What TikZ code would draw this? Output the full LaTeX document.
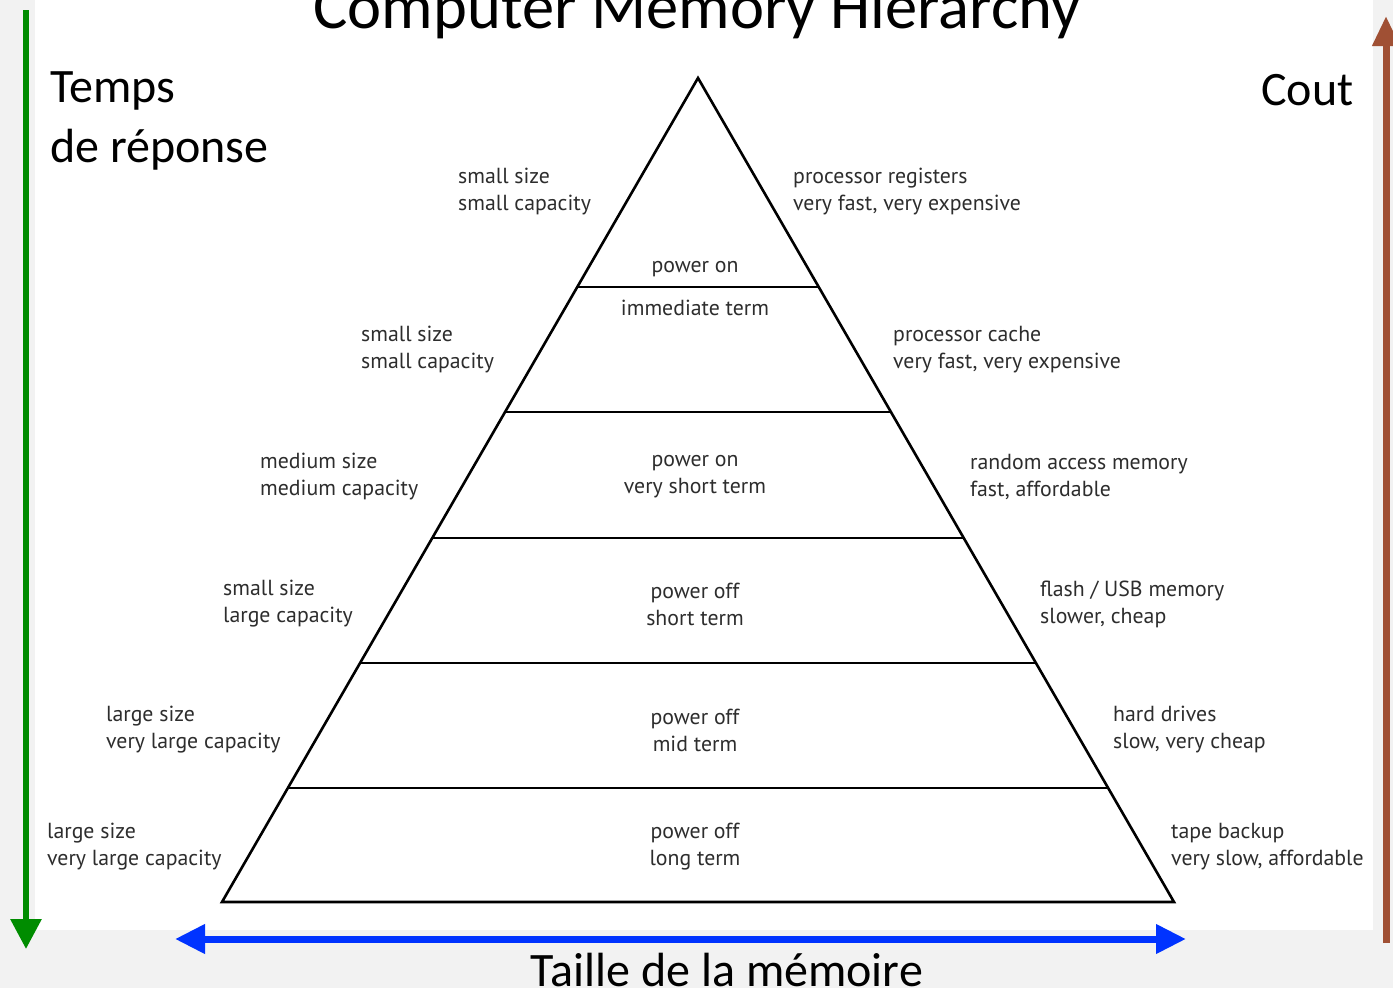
\documentclass[tikz,border=0pt]{standalone}
\usepackage{fontspec}
\setmainfont{Carlito}
\newfontfamily\lblfont{PT Sans}
\usetikzlibrary{arrows.meta}
\definecolor{bggray}{RGB}{242,242,242}
\definecolor{agreen}{RGB}{0,140,0}
\definecolor{ablue}{RGB}{0,51,255}
\definecolor{abrown}{RGB}{160,80,52}
\definecolor{lbl}{RGB}{45,45,45}
\begin{document}
\begin{tikzpicture}[x=1pt,y=-1pt,
  big/.style={font=\fontsize{48}{60}\selectfont, text=black, inner sep=0pt, align=left},
  side/.style={font=\lblfont\fontsize{21.8}{27}\selectfont, text=lbl, inner sep=0pt, align=left, anchor=west},
  mid/.style={font=\lblfont\fontsize{21.8}{27}\selectfont, text=lbl, inner sep=0pt, align=center},
  edge/.style={line width=2.6pt, line join=miter},
  sep/.style={line width=2.6pt}]
\useasboundingbox (0,0) rectangle (1393,988);
\fill[bggray] (0,0) rectangle (1393,988);
\fill[white] (35,0) rectangle (1373,930);
% title
\node[font=\fontsize{64.5}{66}\selectfont, anchor=base, inner sep=0pt] (title) at (697,28) {Computer Memory Hierarchy};
% side labels
\node[big, anchor=west] (temps) at (50,121) {Temps\\de réponse};
\node[big, anchor=west] (cout) at (1261,90) {Cout};
\node[big, anchor=base] (taille) at (727,986) {Taille de la mémoire};
% arrows
\coordinate (g1) at (26,10); \coordinate (g2) at (26,949);
\draw[agreen, line width=6pt, -{Triangle[length=30pt,width=30pt]}] (g1) -- (g2);
\coordinate (r1) at (1386,943); \coordinate (r2) at (1386,16);
\draw[abrown, line width=7pt, -{Triangle[length=30pt,width=26pt]}] (r1) -- (r2);
\coordinate (b1) at (175,939); \coordinate (b2) at (1186,939);
\draw[ablue, line width=7pt, {Triangle[length=30pt,width=28pt]}-{Triangle[length=30pt,width=28pt]}] (b1) -- (b2);
% pyramid
\coordinate (apex) at (698,78);
\coordinate (bl) at (222,902);
\coordinate (br) at (1174,902);
\draw[edge] (apex) -- (bl) -- (br) -- cycle;
\foreach \y/\n in {287/a,412/b,538/c,663/d,788/e}{
  \pgfmathsetmacro{\hw}{(\y-78)*0.57767}
  \coordinate (l\n) at ({698-\hw},\y);
  \coordinate (r\n) at ({698+\hw},\y);
  \draw[sep] (l\n) -- (r\n);
}
% center texts
\node[mid] (c1a) at (695,269) {power on};
\node[mid] (c1b) at (695,308) {immediate term};
\node[mid] (c3) at (695,477) {power on\\very short term};
\node[mid] (c4) at (695,604) {power off\\short term};
\node[mid] (c5) at (695,730) {power off\\mid term};
\node[mid] (c6) at (695,847) {power off\\long term};
% left labels
\node[side] (L1) at (458,192) {small size\\small capacity};
\node[side] (L2) at (361,350) {small size\\small capacity};
\node[side] (L3) at (260,477) {medium size\\medium capacity};
\node[side] (L4) at (223,604) {small size\\large capacity};
\node[side] (L5) at (106,730) {large size\\very large capacity};
\node[side] (L6) at (47,847) {large size\\very large capacity};
% right labels
\node[side] (R1) at (793,192) {processor registers\\very fast, very expensive};
\node[side] (R2) at (893,350) {processor cache\\very fast, very expensive};
\node[side] (R3) at (970,477) {random access memory\\fast, affordable};
\node[side] (R4) at (1040,604) {flash / USB memory\\slower, cheap};
\node[side] (R5) at (1113,730) {hard drives\\slow, very cheap};
\node[side] (R6) at (1171,847) {tape backup\\very slow, affordable};
\end{tikzpicture}
\end{document}
